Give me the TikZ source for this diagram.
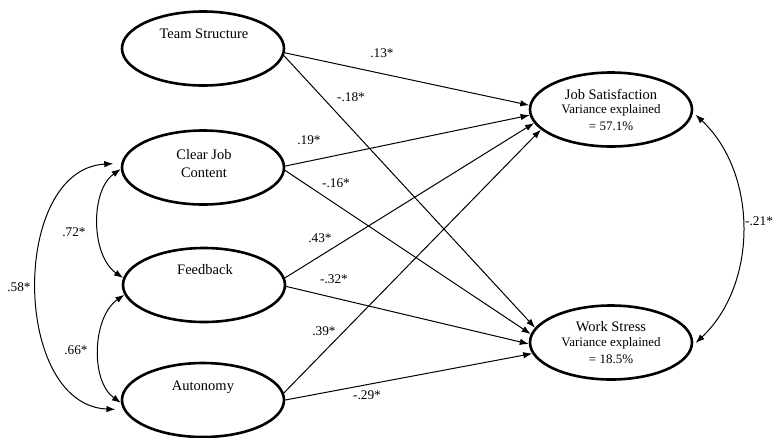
\documentclass[tikz,border=0pt]{standalone}
\usepackage{fontspec}
\setmainfont{Liberation Serif}
\usetikzlibrary{arrows.meta,shapes.geometric}
\begin{document}
\begin{tikzpicture}[x=1pt,y=1pt,
  ell/.style={draw, ellipse, line width=2.6pt, minimum width=162pt, minimum height=74pt, inner sep=0pt},
  ttl/.style={font=\fontsize{14.5}{17}\selectfont, inner sep=0pt},
  sub/.style={font=\fontsize{13}{15}\selectfont, inner sep=0pt},
  coef/.style={font=\fontsize{13.3}{15}\selectfont, inner sep=0pt},
  pth/.style={line width=1pt, -{Latex[length=9pt,width=6.5pt]}},
  corr/.style={line width=1pt, {Latex[length=9pt,width=6.5pt]}-{Latex[length=9pt,width=6.5pt]}}]
\useasboundingbox (0,0) rectangle (775,-437);

% latent variables
\node[ell] (TS) at (203,-48.5) {};
\node[ell] (CJ) at (203,-167.5) {};
\node[ell] (FB) at (204,-285) {};
\node[ell] (AU) at (203,-400) {};
\node[ell] (JS) at (611,-109.5) {};
\node[ell] (WS) at (611,-342.5) {};

% texts
\node[ttl] (TSt) at (204,-34) {Team Structure};
\node[ttl] (CJt1) at (204,-155) {Clear Job};
\node[ttl] (CJt2) at (204,-173) {Content};
\node[ttl] (FBt) at (205,-270) {Feedback};
\node[ttl] (AUt) at (203,-387) {Autonomy};
\node[ttl] (JSt1) at (611,-94) {Job Satisfaction};
\node[sub] (JSt2) at (611,-110) {Variance explained};
\node[sub] (JSt3) at (611,-126) {= 57.1\%};
\node[ttl] (WSt1) at (611,-327) {Work Stress};
\node[sub] (WSt2) at (611,-343) {Variance explained};
\node[sub] (WSt3) at (611,-359) {= 18.5\%};

% structural paths
\draw[pth] (TS.-3) -- (JS.177);
\draw[pth] (TS.-5) -- (WS.169);
\draw[pth] (CJ.1) -- (JS.184);
\draw[pth] (CJ.-2) -- (WS.174.5);
\draw[pth] (FB.5.5) -- (JS.190);
\draw[pth] (FB.-1) -- (WS.181.5);
\draw[pth] (AU.5) -- (JS.196);
\draw[pth] (AU.0) -- (WS.188);

% correlations
\draw[corr] (CJ.181) .. controls +(-31,-22) and +(-32,22) .. (FB.175);
\draw[corr] (FB.187) .. controls +(-32,-22) and +(-31,22) .. (AU.182);
\draw[corr, shorten <=8pt, shorten >=8pt] (CJ.177) .. controls +(-111,-6) and +(-112,5) .. (AU.187);
\draw[corr, shorten <=3.5pt, shorten >=3.5pt] (JS.-2) .. controls +(65,-61) and +(65,61) .. (WS.-2);

% coefficients
\node[coef] (c1) at (382,-53) {.13*};
\node[coef] (c2) at (351,-97) {-.18*};
\node[coef] (c3) at (309,-140) {.19*};
\node[coef] (c4) at (336,-183) {-.16*};
\node[coef] (c5) at (320,-238) {.43*};
\node[coef] (c6) at (334,-279) {-.32*};
\node[coef] (c7) at (324,-331) {.39*};
\node[coef] (c8) at (367,-395) {-.29*};
\node[coef] (c9) at (74,-232) {.72*};
\node[coef] (c10) at (19,-287) {.58*};
\node[coef] (c11) at (76,-350) {.66*};
\node[coef, anchor=west] (c12) at (745,-221) {-.21*};
\end{tikzpicture}
\end{document}
